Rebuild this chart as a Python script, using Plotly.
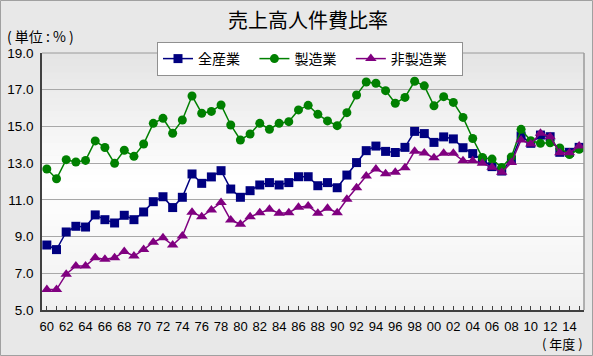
import plotly.graph_objects as go

years = list(range(1960, 2016))
tick_years = list(range(1960, 2015, 2))
tick_text = [f"{y % 100:02d}" for y in tick_years]

all_ind = [8.54, 8.29, 9.25, 9.56, 9.52, 10.18, 9.92, 9.74, 10.16, 9.92,
           10.34, 10.9, 11.17, 10.58, 11.14, 12.41, 11.9, 12.25, 12.59, 11.59,
           11.14, 11.5, 11.81, 11.94, 11.81, 11.94, 12.26, 12.26, 11.77, 11.94,
           11.66, 12.35, 13.03, 13.68, 13.93, 13.64, 13.58, 13.86, 14.73, 14.61,
           14.13, 14.43, 14.32, 13.84, 13.52, 13.15, 12.81, 12.57, 13.17, 14.48,
           14.08, 14.53, 14.44, 13.59, 13.59, 13.86]
manuf = [12.68, 12.15, 13.19, 13.06, 13.15, 14.21, 13.85, 12.99, 13.7, 13.37,
         14.04, 15.17, 15.44, 14.63, 15.35, 16.66, 15.72, 15.82, 16.17, 15.08,
         14.26, 14.59, 15.17, 14.84, 15.17, 15.26, 15.9, 16.15, 15.66, 15.3,
         15.04, 15.75, 16.71, 17.42, 17.35, 16.95, 16.26, 16.58, 17.46, 17.21,
         16.12, 16.62, 16.31, 15.49, 14.34, 13.31, 13.22, 12.76, 13.34, 14.84,
         14.22, 14.08, 14.11, 13.83, 13.47, 13.75]
non_manuf = [6.11, 6.11, 6.95, 7.4, 7.4, 7.85, 7.76, 7.85, 8.18, 7.94,
             8.29, 8.69, 8.94, 8.54, 9.03, 10.32, 10.08, 10.45, 10.85, 9.9,
             9.67, 10.08, 10.3, 10.49, 10.27, 10.3, 10.6, 10.67, 10.27, 10.54,
             10.3, 11.03, 11.66, 12.3, 12.68, 12.42, 12.51, 12.75, 13.65, 13.55,
             13.29, 13.54, 13.54, 13.13, 13.13, 12.99, 12.77, 12.5, 13.03, 14.26,
             14.04, 14.63, 14.44, 13.57, 13.57, 13.93]

series = [
    ("全産業", all_ind, "#000080", "square", 9),
    ("製造業", manuf, "#008000", "circle", 9),
    ("非製造業", non_manuf, "#800080", "triangle-up", 10),
]

FONT = "Noto Sans CJK JP, sans-serif"
NUMFONT = "Liberation Sans, Arial, sans-serif"
PAD = "\u00a0\u00a0\u00a0"

fig = go.Figure()
for name, vals, col, sym, sz in series:
    fig.add_trace(go.Scatter(
        x=years, y=vals, name=name + PAD, mode="lines+markers",
        line=dict(color=col, width=1.5),
        marker=dict(symbol=sym, size=sz, color=col),
    ))

W, H = 593, 356
L, R, T, B = 42, 9, 53, 46
pw, ph = W - L - R, H - T - B

shapes = []
# plot-area gradient (top grey -> white -> light grey)
N = 40
def mix(c1, c2, t):
    return tuple(round(a + (b - a) * t) for a, b in zip(c1, c2))
top_c, mid_c, bot_c = (228, 228, 228), (255, 255, 255), (240, 240, 240)
for i in range(N):
    f0, f1 = i / N, (i + 1) / N
    fc = 1 - (f0 + f1) / 2  # 0 at top, 1 at bottom
    if fc < 0.5:
        c = mix(top_c, mid_c, fc / 0.5)
    else:
        c = mix(mid_c, bot_c, (fc - 0.5) / 0.5)
    shapes.append(dict(type="rect", xref="paper", yref="paper", x0=0, x1=1,
                       y0=f0, y1=f1 + 0.002, line=dict(width=0),
                       fillcolor="rgb(%d,%d,%d)" % c, layer="below"))
# top/right border of plot
shapes.append(dict(type="line", xref="paper", yref="paper", x0=0, x1=1, y0=1, y1=1,
                   line=dict(color="#9a9a9a", width=1)))
shapes.append(dict(type="line", xref="paper", yref="paper", x0=1, x1=1, y0=0, y1=1,
                   line=dict(color="#9a9a9a", width=1.5)))
# outer frame
shapes.append(dict(type="rect", xref="paper", yref="paper",
                   x0=-(L - 0.5) / pw, x1=1 + (R - 0.5) / pw,
                   y0=-(B - 0.5) / ph, y1=1 + (T - 0.5) / ph,
                   line=dict(color="#a0a0a0", width=1), layer="below"))

fig.update_layout(
    width=W, height=H,
    margin=dict(l=L, r=R, t=T, b=B, autoexpand=False),
    paper_bgcolor="#e8e8e8",
    plot_bgcolor="rgba(0,0,0,0)",
    font=dict(family=FONT, color="#000000"),
    showlegend=True,
    legend=dict(orientation="h", x=(157 - L) / pw, y=1 + (T - 42) / ph,
                xanchor="left", yanchor="top",
                bgcolor="#ffffff", bordercolor="#909090", borderwidth=1,
                font=dict(family=FONT, size=14), itemwidth=30,
                tracegroupgap=0),
    shapes=shapes,
    annotations=[
        dict(text="売上高人件費比率", xref="paper", yref="paper",
             x=(308 - L) / pw, y=1 + (T - 19) / ph, xanchor="center", yanchor="middle",
             showarrow=False, font=dict(family=FONT, size=20)),
        dict(text="( 単位 : % )", xref="paper", yref="paper",
             x=(5 - L) / pw, y=1 + (T - 36) / ph, xanchor="left", yanchor="middle",
             showarrow=False, font=dict(family=FONT, size=14)),
        dict(text="( 年度 )", xref="paper", yref="paper",
             x=(585 - L) / pw, y=-(343 - T - ph) / ph, xanchor="right", yanchor="middle",
             showarrow=False, font=dict(family=FONT, size=13)),
    ],
    xaxis=dict(
        range=[1959.5, 2015.5],
        tickmode="array", tickvals=tick_years, ticktext=tick_text,
        ticks="inside", ticklen=4, tickcolor="#404040", tickwidth=1,
        minor=dict(ticks="inside", dtick=1, tick0=1960, ticklen=4, tickcolor="#404040"),
        showgrid=False, zeroline=False,
        showline=True, linecolor="#404040", linewidth=1.5,
        tickfont=dict(family=NUMFONT, size=13, color="#000000"),
        ticklabelstandoff=4,
    ),
    yaxis=dict(
        range=[5, 19], dtick=2, tick0=5, tickformat=".1f",
        showgrid=True, gridcolor="#a8a8a8", gridwidth=1,
        zeroline=False, showline=True, linecolor="#404040", linewidth=1.5,
        ticks="", tickfont=dict(family=NUMFONT, size=13.5, color="#000000"),
        ticklabelstandoff=4,
    ),
)

fig.write_html(
    "out.html",
    config={"displayModeBar": False},
    post_script="document.body.style.margin='0';document.body.style.padding='0';"
                "document.body.style.overflow='hidden';",
)
